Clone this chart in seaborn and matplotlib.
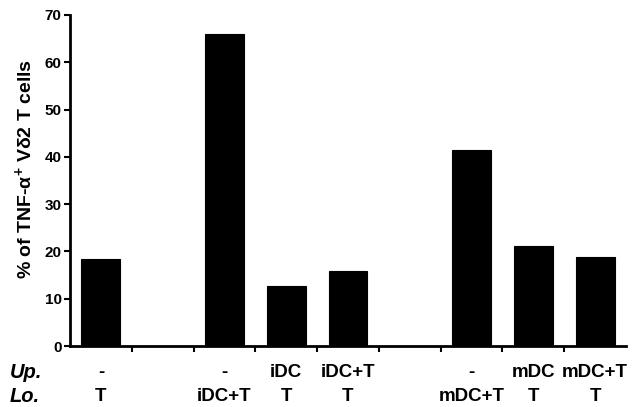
import matplotlib
matplotlib.use("Agg")
import matplotlib.pyplot as plt
import seaborn as sns
import pandas as pd

# ---- data ----
up_labels = ["-", "", "-", "iDC", "iDC+T", "", "-", "mDC", "mDC+T"]
lo_labels = ["T", "", "iDC+T", "T", "T", "", "mDC+T", "T", "T"]
values = [18.5, None, 66.0, 12.6, 15.9, None, 41.4, 21.1, 18.8]
y_ticks = [0, 10, 20, 30, 40, 50, 60, 70]

sns.set_style("white")
plt.rcParams["font.family"] = ["Liberation Sans", "DejaVu Sans"]
plt.rcParams["font.weight"] = "bold"
plt.rcParams["mathtext.fontset"] = "custom"
plt.rcParams["mathtext.rm"] = "Liberation Sans:bold"
plt.rcParams["mathtext.bf"] = "Liberation Sans:bold"
plt.rcParams["mathtext.it"] = "Liberation Sans:bold"
for k in ["text.color", "axes.labelcolor", "xtick.color", "ytick.color"]:
    plt.rcParams[k] = "black"

keys = [f"{u}\n{l}" if (u or l) else " " * (i + 1) for i, (u, l) in enumerate(zip(up_labels, lo_labels))]
df = pd.DataFrame({"cond": [k for k, v in zip(keys, values) if v is not None],
                   "val": [v for v in values if v is not None]})

fig = plt.figure(figsize=(6.37, 4.07), dpi=100)
ax = fig.add_axes([70 / 637, 1 - 346 / 407, 556 / 637, 331 / 407])

sns.barplot(data=df, x="cond", y="val", order=keys, color="black",
            width=0.63, edgecolor="black", linewidth=0.8, ax=ax, saturation=1)

ax.set_xlim(-0.5, len(keys) - 0.5)
ax.set_ylim(0, 70)
ax.set_yticks(y_ticks)
ax.set_yticklabels([str(t) for t in y_ticks], fontsize=11, fontweight="bold")

# major ticks: labels at category centers (no tick marks)
ax.set_xticks(range(len(keys)))
ax.set_xticklabels(keys, fontsize=13.5, fontweight="bold", linespacing=1.5)
ax.tick_params(axis="x", which="major", length=0, pad=13)
# minor ticks: marks at category boundaries
ax.set_xticks([i + 0.5 for i in range(len(keys) - 1)], minor=True)
ax.tick_params(axis="x", which="minor", length=4, width=1.5, direction="out", bottom=True)
ax.tick_params(axis="y", length=4, width=1.5, direction="out", left=True, pad=2)

for s in ["top", "right"]:
    ax.spines[s].set_visible(False)
for s in ["left", "bottom"]:
    ax.spines[s].set_linewidth(2)
    ax.spines[s].set_color("black")

ax.set_xlabel("")
ax.set_ylabel("% of TNF-α$^{+}$ Vδ2 T cells", fontsize=14, fontweight="bold")
ax.yaxis.set_label_coords(-0.063, 0.535)

fig.text(10 / 637, 1 - 372 / 407, "Up.", fontsize=14.5, fontweight="bold", style="italic", va="center", ha="left")
fig.text(10 / 637, 1 - 397 / 407, "Lo.", fontsize=14.5, fontweight="bold", style="italic", va="center", ha="left")

fig.savefig("out.png", dpi=100, facecolor="white")
